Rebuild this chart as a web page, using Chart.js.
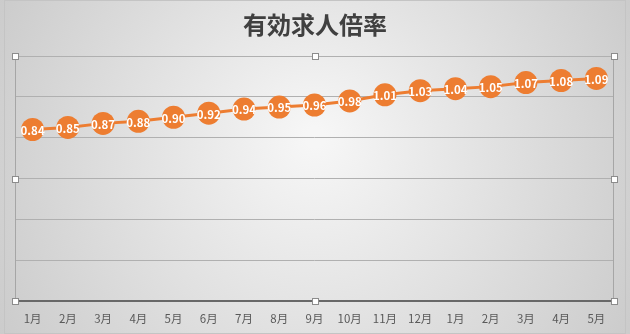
<!DOCTYPE html>
<html>
<head>
<meta charset="utf-8">
<script src="https://cdn.jsdelivr.net/npm/chart.js@4/dist/chart.umd.min.js"></script>
<style>
  html, body { margin: 0; padding: 0; background: #d4d4d4; }
  #wrap { width: 630px; height: 334px; }
</style>
</head>
<body>
<div id="wrap"><canvas id="c" width="630" height="334"></canvas></div>
<script>
const title = '有効求人倍率';
const months = ['1月', '2月', '3月', '4月', '5月', '6月', '7月', '8月', '9月', '10月', '11月', '12月', '1月', '2月', '3月', '4月', '5月'];
const ratio = [0.84, 0.85, 0.87, 0.88, 0.90, 0.92, 0.94, 0.95, 0.96, 0.98, 1.01, 1.03, 1.04, 1.05, 1.07, 1.08, 1.09];
const yTicks = [0, 0.2, 0.4, 0.6, 0.8, 1.0, 1.2];

const cjk = '"Noto Sans CJK JP", "Noto Sans", sans-serif';
const orange = '#ED7D31';

// background, frame and title
const backdrop = {
    id: 'backdrop',
    beforeDraw(chart) {
        const ctx = chart.ctx;
        const w = chart.width, h = chart.height;
        ctx.save();
        const g = ctx.createRadialGradient(w / 2, h / 2 - 30, 10, w / 2, h / 2, 360);
        g.addColorStop(0, '#f6f6f6');
        g.addColorStop(1, '#cbcbcb');
        ctx.fillStyle = g;
        ctx.fillRect(0, 0, w, h);
        ctx.strokeStyle = '#c4c4c4';
        ctx.lineWidth = 1;
        ctx.strokeRect(4.5, 0.5, w - 9, h - 1);
        ctx.fillStyle = '#404040';
        ctx.font = 'bold 24px ' + cjk;
        ctx.textAlign = 'center';
        ctx.textBaseline = 'middle';
        ctx.fillText(title, w / 2, 25);
        ctx.restore();
    },
    afterDraw(chart) {
        const ctx = chart.ctx;
        const a = chart.chartArea;
        ctx.save();
        ctx.strokeStyle = '#a6a6a6';
        ctx.lineWidth = 1;
        ctx.beginPath();
        ctx.moveTo(Math.round(a.left) + 0.5, a.top);
        ctx.lineTo(Math.round(a.left) + 0.5, a.bottom);
        ctx.moveTo(Math.round(a.right) - 0.5, a.top);
        ctx.lineTo(Math.round(a.right) - 0.5, a.bottom);
        ctx.stroke();
        // selection handles
        const mx = (a.left + a.right) / 2, my = (a.top + a.bottom) / 2;
        const pts = [[a.left, a.top], [mx, a.top], [a.right, a.top], [a.left, my], [a.right, my], [a.left, a.bottom], [mx, a.bottom], [a.right, a.bottom]];
        ctx.fillStyle = '#ffffff';
        ctx.strokeStyle = '#8c8c8c';
        pts.forEach(([x, y]) => {
            ctx.fillRect(Math.round(x) - 3, Math.round(y) - 3, 7, 7);
            ctx.strokeRect(Math.round(x) - 2.5, Math.round(y) - 2.5, 6, 6);
        });
        ctx.restore();
    }
};

// white value labels inside the markers
const valueLabels = {
    id: 'valueLabels',
    afterDatasetsDraw(chart) {
        const ctx = chart.ctx;
        const meta = chart.getDatasetMeta(0);
        ctx.save();
        ctx.fillStyle = '#ffffff';
        ctx.font = 'bold 11.5px ' + cjk;
        ctx.textAlign = 'center';
        ctx.textBaseline = 'middle';
        meta.data.forEach((p, i) => {
            ctx.fillText(ratio[i].toFixed(2), p.x, p.y + 1);
        });
        ctx.restore();
    }
};

new Chart(document.getElementById('c'), {
    type: 'line',
    data: {
        labels: months,
        datasets: [{
            data: ratio,
            borderColor: orange,
            borderWidth: 3,
            backgroundColor: orange,
            pointBackgroundColor: orange,
            pointBorderColor: orange,
            pointRadius: 11.5,
            pointBorderWidth: 0,
            tension: 0
        }]
    },
    options: {
        responsive: false,
        animation: false,
        layout: { padding: { left: 15, right: 16, top: 56, bottom: 0 } },
        plugins: {
            legend: { display: false },
            title: { display: false },
            tooltip: { enabled: false }
        },
        scales: {
            x: {
                offset: true,
                grid: { display: false },
                border: { color: '#686868', width: 2 },
                ticks: {
                    color: '#595959',
                    font: { family: cjk, size: 11.5 },
                    maxRotation: 0,
                    autoSkip: false,
                    padding: 3
                },
                afterFit(s) { s.height = 33; }
            },
            y: {
                min: 0,
                max: 1.2,
                afterBuildTicks(s) { s.ticks = yTicks.map(v => ({ value: v })); },
                ticks: { display: false },
                grid: { color: '#b0b0b0', drawTicks: false, lineWidth: 1 },
                border: { display: false },
                afterFit(s) { s.width = 0; }
            }
        }
    },
    plugins: [backdrop, valueLabels]
});
</script>
</body>
</html>
